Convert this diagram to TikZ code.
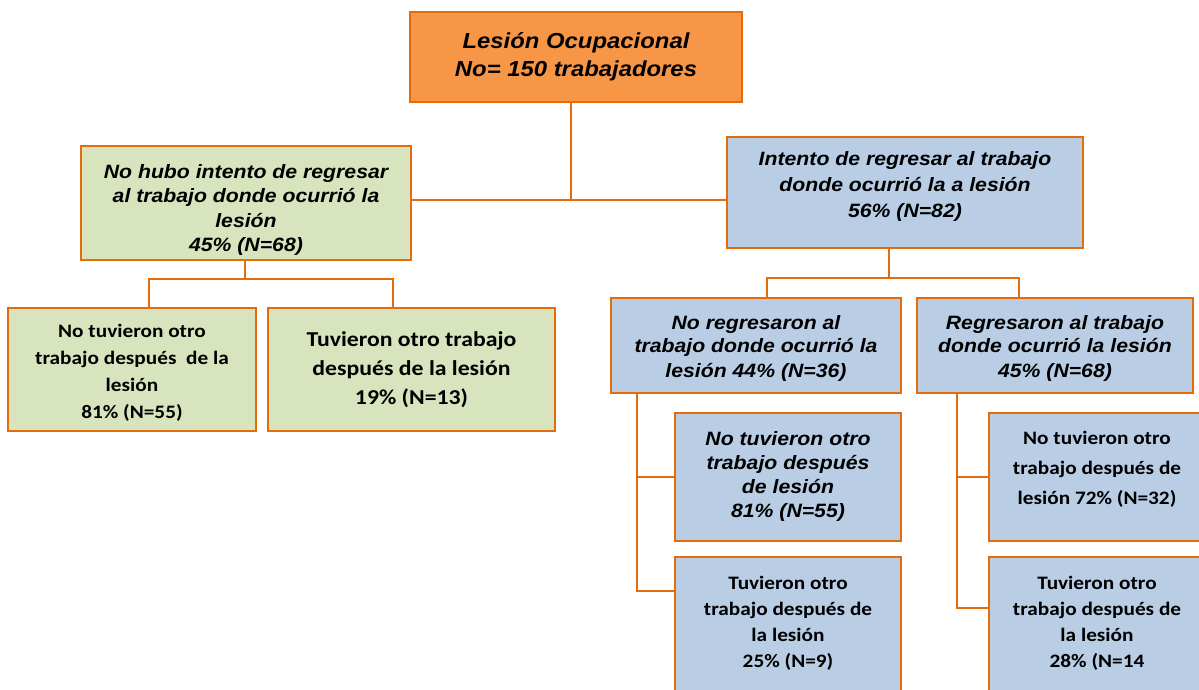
\documentclass[tikz,border=0pt]{standalone}
\usepackage{fontspec}
\usepackage{xcolor}
\usepackage{tikz}
\usetikzlibrary{positioning, calc}
\newfontfamily\arialbi[FakeStretch=1.1]{Liberation Sans}
\newfontfamily\calibb[FakeStretch=1.12]{Carlito}
\definecolor{boxline}{HTML}{E46C0A}
\definecolor{rootfill}{HTML}{F79646}
\definecolor{greenfill}{HTML}{D7E4BD}
\definecolor{bluefill}{HTML}{B9CDE5}
% extra room above the first line / below the last line of a box text
\newcommand{\padtop}[1]{\rule{0pt}{#1}}
\newcommand{\padbot}[1]{\rule[-#1]{0pt}{#1}}

\begin{document}
\begin{tikzpicture}[
    x=1pt, y=-1pt,
    every node/.style={align=center, inner sep=0pt},
    box/.style={rectangle, draw=boxline, line width=2.6pt},
    italtext/.style={font=\arialbi\bfseries\itshape\fontsize{19.3}{24.5}\selectfont},
    caltext/.style={font=\calibb\bfseries\fontsize{19}{26}\selectfont},
    link/.style={draw=boxline, line width=2.2pt}
]
\useasboundingbox (0,0) rectangle (1199,690);

% --- Top ---
\node[box, fill=rootfill, minimum width=332pt, minimum height=90pt,
      font=\arialbi\bfseries\itshape\fontsize{21.7}{27.5}\selectfont] (root) at (576,57)
      {Lesión Ocupacional\\No= 150 trabajadores};

% --- Second level ---
\node[box, italtext, fill=greenfill, minimum width=330pt, minimum height=114pt] (nohubo) at (246,203)
      {\padtop{28pt}No hubo intento de regresar\\al trabajo donde ocurrió la\\lesión\\45\% (N=68)};
\node[box, italtext, fill=bluefill, minimum width=356pt, minimum height=111pt,
      font=\arialbi\bfseries\itshape\fontsize{19.3}{26}\selectfont] (intento) at (905,192.5)
      {Intento de regresar al trabajo\\donde ocurrió la a lesión\\56\% (N=82)\padbot{16pt}};

% --- Left branch ---
\node[box, caltext, fill=greenfill, minimum width=248pt, minimum height=123pt,
      font=\calibb\bfseries\fontsize{19}{27}\selectfont] (notuvo) at (132,369.5)
      {\padtop{20pt}No tuvieron otro\\trabajo después\ \ de la\\lesión\\81\% (N=55)};
\node[box, caltext, fill=greenfill, minimum width=287pt, minimum height=123pt,
      font=\calibb\bfseries\fontsize{21.2}{29}\selectfont] (tuvo) at (411.5,369.5)
      {Tuvieron otro trabajo\\después de la lesión\\19\% (N=13)};

% --- Right branch ---
\node[box, italtext, fill=bluefill, minimum width=290pt, minimum height=95pt,
      font=\arialbi\bfseries\itshape\fontsize{19.3}{24}\selectfont] (noreg) at (756,345.5)
      {\padtop{19pt}No regresaron al\\trabajo donde ocurrió la\\lesión 44\% (N=36)};
\node[box, italtext, fill=bluefill, minimum width=276pt, minimum height=95pt,
      font=\arialbi\bfseries\itshape\fontsize{19.3}{24}\selectfont] (reg) at (1055,345.5)
      {\padtop{19pt}Regresaron al trabajo\\donde ocurrió la lesión\\45\% (N=68)};

\node[box, italtext, fill=bluefill, minimum width=226pt, minimum height=128pt,
      font=\arialbi\bfseries\itshape\fontsize{19.3}{24}\selectfont] (noregno) at (788,477)
      {No tuvieron otro\\trabajo después\\de lesión\\81\% (N=55)};
\node[box, caltext, fill=bluefill, minimum width=226pt, minimum height=143pt] (noregsi) at (788,628.5)
      {Tuvieron otro\\trabajo después de\\la lesión\\25\% (N=9)\padbot{14pt}};
\node[box, caltext, fill=bluefill, minimum width=216pt, minimum height=128pt,
      font=\calibb\bfseries\fontsize{19}{30}\selectfont] (regno) at (1097,477)
      {No tuvieron otro\\trabajo después de\\lesión 72\% (N=32)\padbot{19pt}};
\node[box, caltext, fill=bluefill, minimum width=216pt, minimum height=143pt] (regsi) at (1097,628.5)
      {Tuvieron otro\\trabajo después de\\la lesión\\28\% (N=14\padbot{14pt}};

% --- Connectors ---
\coordinate (hub) at (571,200);
\draw[link] (hub |- root.south) -- (hub);
\draw[link] (nohubo.east |- hub) -- (intento.west |- hub);

\coordinate (lsplit) at (245,279);
\draw[link] (lsplit |- nohubo.south) -- (lsplit);
\draw[link] (notuvo.north -| 149,0) |- (lsplit) -| (tuvo.north -| 393,0);

\coordinate (rsplit) at (889,278);
\draw[link] (rsplit |- intento.south) -- (rsplit);
\draw[link] (noreg.north -| 767,0) |- (rsplit) -| (reg.north -| 1019,0);

\coordinate (lcol) at (637,591);
\draw[link] (lcol |- noreg.south) -- (lcol) -- (lcol -| noregsi.west);
\draw[link] (lcol |- noregno.west) -- (noregno.west);

\coordinate (rcol) at (957,608);
\draw[link] (rcol |- reg.south) -- (rcol) -- (rcol -| regsi.west);
\draw[link] (rcol |- regno.west) -- (regno.west);

\end{tikzpicture}
\end{document}
